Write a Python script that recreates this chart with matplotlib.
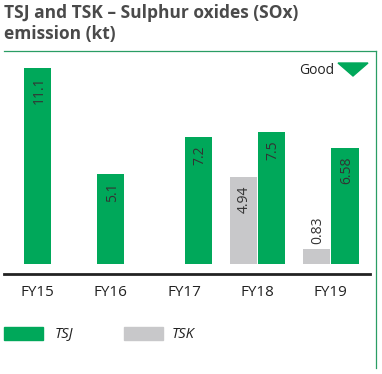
import matplotlib.pyplot as plt
from matplotlib.lines import Line2D
from matplotlib.patches import Polygon, Rectangle
import numpy as np

plt.rcParams['font.family'] = ['Open Sans', 'DejaVu Sans']

years = ['FY15', 'FY16', 'FY17', 'FY18', 'FY19']
tsj = [11.1, 5.1, 7.2, 7.5, 6.58]
tsk = [None, None, None, 4.94, 0.83]
tsj_labels = ['11.1', '5.1', '7.2', '7.5', '6.58']
tsk_labels = [None, None, None, '4.94', '0.83']

green = '#00a85a'
grey = '#c8c8ca'
txt = '#333333'

W, H = 382, 374
fig = plt.figure(figsize=(W / 100, H / 100), dpi=100)

def fx(px):
    return px / W

def fy(py):
    return 1 - py / H

# axes: left 4px, right 370px, bottom 274px, top 51px
ax = fig.add_axes([fx(4), fy(274), fx(366), (274 - 51) / H])
ppu = 17.66
ax.set_ylim(-10 / ppu, (264 - 51) / ppu)
ax.set_xlim(-33.5 / 73.3, (370 - 37.5) / 73.3)

bw = 0.37
off = 0.195
x = np.arange(len(years))
for i in range(len(years)):
    if tsk[i] is None and i < 2:
        xs = x[i]
    else:
        xs = x[i] + off
    ax.bar(xs, tsj[i], width=bw, color=green, linewidth=0)
    ax.text(xs + 0.02, tsj[i] - 0.5, tsj_labels[i], rotation=90, ha='center', va='top',
            fontsize=10, color=txt)
    if tsk[i] is not None:
        xk = x[i] - off
        ax.bar(xk, tsk[i], width=bw, color=grey, linewidth=0)
        if tsk[i] > 2:
            ax.text(xk + 0.02, tsk[i] - 0.5, tsk_labels[i], rotation=90, ha='center', va='top',
                    fontsize=10, color=txt)
        else:
            ax.text(xk + 0.02, tsk[i] + 0.3, tsk_labels[i], rotation=90, ha='center', va='bottom',
                    fontsize=10, color=txt)

for s in ['top', 'right', 'left']:
    ax.spines[s].set_visible(False)
ax.spines['bottom'].set_linewidth(2)
ax.spines['bottom'].set_color('#222222')
ax.set_yticks([])
ax.set_xticks(x)
ax.set_xticklabels(years, fontsize=11, color='#222222')
ax.tick_params(axis='x', length=0, pad=8)

# title
fig.text(fx(4), fy(4), 'TSJ and TSK – Sulphur oxides (SOx)\nemission (kt)', ha='left', va='top',
         fontsize=12.5, fontweight='bold', color='#4a4a4a', linespacing=1.2)

# frame lines
fig.add_artist(Line2D([fx(4), fx(376)], [fy(51), fy(51)], color='#2a9d64', lw=0.9))
fig.add_artist(Line2D([fx(376), fx(376)], [fy(51), fy(368)], color='#2a9d64', lw=0.9))

# good marker
fig.text(fx(334), fy(70), 'Good', ha='right', va='center', fontsize=10, color='#222222')
fig.add_artist(Polygon([[fx(338), fy(63)], [fx(368), fy(63)], [fx(353), fy(76)]],
                       closed=True, color=green, transform=fig.transFigure))

# legend
fig.add_artist(Rectangle((fx(4), fy(340)), fx(39), 13 / H, color=green, transform=fig.transFigure))
fig.text(fx(55), fy(334), 'TSJ', ha='left', va='center', fontsize=10.5, style='italic', color='#222222')
fig.add_artist(Rectangle((fx(124), fy(340)), fx(39), 13 / H, color=grey, transform=fig.transFigure))
fig.text(fx(172), fy(334), 'TSK', ha='left', va='center', fontsize=10.5, style='italic', color='#222222')

fig.savefig('out.png', dpi=100)
